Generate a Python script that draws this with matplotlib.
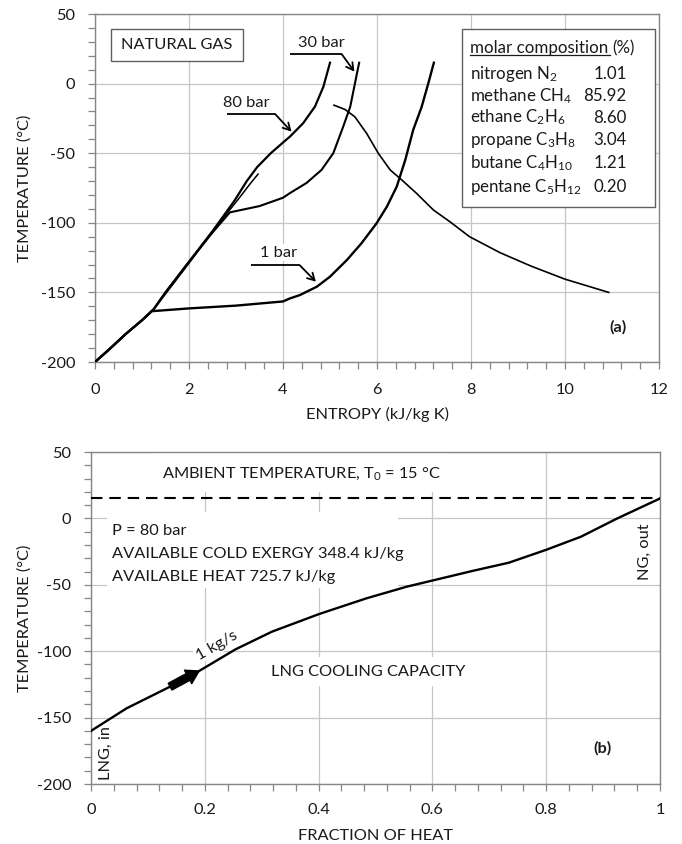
import matplotlib
matplotlib.use("Agg")
import matplotlib.pyplot as plt
from matplotlib.patches import Rectangle
from matplotlib.lines import Line2D
from matplotlib.ticker import MultipleLocator


# --------------------------------
# Data
# --------------------------------

# panel (a): T-s curves, entropy in kJ/kg K, temperature in degC
s_80bar = [0.0, 0.3, 0.65, 1.0, 1.25, 1.5, 2.0, 2.5, 2.97, 3.23, 3.45, 3.74, 4.08, 4.15,
           4.43, 4.68, 4.86, 5.0]
T_80bar = [-200, -191, -180, -170, -162, -150, -128, -106, -84, -70, -60, -50, -40, -38,
           -28.4, -16.5, -2.2, 15]

s_30bar = [0.0, 0.3, 0.65, 1.0, 1.25, 1.5, 2.0, 2.5, 2.87, 3.5, 4.0, 4.15, 4.5, 4.82,
           5.07, 5.28, 5.43, 5.53, 5.62]
T_30bar = [-200, -191, -180, -170, -162, -150, -128, -107, -92.5, -88, -82, -78.6, -71.4, -62,
           -50, -31, -16.7, 0, 15]

s_1bar = [0.0, 0.3, 0.65, 1.0, 1.21, 2.0, 3.0, 4.0, 4.15, 4.36, 4.72, 5.0, 5.36, 5.67,
          5.99, 6.21, 6.42, 6.6, 6.77, 6.95, 7.09, 7.21]
T_1bar = [-200, -191, -180, -170, -163.5, -161.5, -159.5, -156.5, -154.3, -151.9, -145.9, -138.7,
          -126.7, -114.7, -100.4, -88.4, -74, -55, -33.3, -16.7, 0, 15]

s_bubble = [1.3, 2.0, 2.6, 3.05, 3.3, 3.47]
T_bubble = [-160, -129, -102, -83, -72, -65]

s_dew = [5.085, 5.32, 5.53, 5.78, 6.03, 6.28, 6.53, 6.84, 7.2, 7.55, 7.97, 8.62, 9.27,
         10.0, 10.93]
T_dew = [-15.5, -18.6, -23.9, -35.8, -50.2, -62, -69.3, -78.8, -90.8, -99.2, -110, -121.5,
         -131, -140.5, -150]

comp_names = ["nitrogen N$_2$", "methane CH$_4$", "ethane C$_2$H$_6$",
              "propane C$_3$H$_8$", "butane C$_4$H$_{10}$", "pentane C$_5$H$_{12}$"]
comp_values = [1.01, 85.92, 8.60, 3.04, 1.21, 0.20]

# panel (b): LNG regasification curve at 80 bar
heat_frac = [0.0, 0.0626, 0.139, 0.19, 0.254, 0.318, 0.401, 0.484, 0.555, 0.599, 0.67,
             0.734, 0.799, 0.861, 0.925, 1.0]
T_lng = [-160, -143, -126.7, -114.9, -98.6, -85.3, -72, -60.2, -51.4, -46.9, -39.6,
         -33.4, -23.8, -13.8, 0, 15]
T_ambient = 15


# --------------------------------
# Style
# --------------------------------

plt.rcParams["font.family"] = ["Lato", "DejaVu Sans"]
plt.rcParams["mathtext.fontset"] = "custom"
plt.rcParams["mathtext.rm"] = "Lato"
plt.rcParams["mathtext.it"] = "Lato:italic"
plt.rcParams["mathtext.bf"] = "Lato:bold"
plt.rcParams["axes.unicode_minus"] = False

FS = 11.8
FS_BOX = 12.2
TXT = "#1a1a1a"
SPINE = "#868686"
GRID = "#c6c6c6"


def style_axes(ax, xpad):
    for sp in ax.spines.values():
        sp.set_color(SPINE)
        sp.set_linewidth(1.0)
    ax.tick_params(which="both", direction="out", color=SPINE, labelsize=FS,
                   labelcolor=TXT, length=5, width=0.9)
    ax.tick_params(axis="y", pad=9.3)
    ax.tick_params(axis="x", pad=xpad)
    ax.grid(True, which="major", color=GRID, linewidth=0.9)
    ax.set_axisbelow(True)


def place_labels(ax, xl, yl, ylab_x, xlab_y):
    ax.set_xlabel(xl, fontsize=FS, color=TXT)
    ax.set_ylabel(yl, fontsize=FS, color=TXT)
    ax.xaxis.set_label_coords(0.5, xlab_y)
    ax.yaxis.set_label_coords(ylab_x, 0.5)
    ax.xaxis.label.set_verticalalignment("center")
    ax.yaxis.label.set_verticalalignment("center")


fig = plt.figure(figsize=(6.82, 8.44), dpi=100)

# --------------------------------
# Panel (a)
# --------------------------------

ax1 = fig.add_axes([95 / 682, 1 - 362 / 844, 564 / 682, 348 / 844])
style_axes(ax1, 10)
ax1.set_xlim(0, 12)
ax1.set_ylim(-200, 50)
ax1.xaxis.set_major_locator(MultipleLocator(2))
ax1.xaxis.set_minor_locator(MultipleLocator(0.4))
ax1.yaxis.set_major_locator(MultipleLocator(50))
ax1.yaxis.set_minor_locator(MultipleLocator(10))
place_labels(ax1, "ENTROPY (kJ/kg K)", "TEMPERATURE (°C)", -70 / 564, -52 / 348)

ax1.plot(s_1bar, T_1bar, color="k", lw=1.7, zorder=3)
ax1.plot(s_30bar, T_30bar, color="k", lw=1.5, zorder=3)
ax1.plot(s_80bar, T_80bar, color="k", lw=1.6, zorder=3)
ax1.plot(s_bubble, T_bubble, color="k", lw=1.1, zorder=3)
ax1.plot(s_dew, T_dew, color="k", lw=1.2, zorder=3)

# natural gas label box
ax1.add_patch(Rectangle((0.028, 0.865), 0.235, 0.091, transform=ax1.transAxes,
                        facecolor="white", edgecolor="#606060", lw=1.0, zorder=4))
ax1.text(0.1455, 0.9105, "NATURAL GAS", transform=ax1.transAxes, ha="center",
         va="center", fontsize=FS, color=TXT, zorder=5)

# pressure labels with leader arrows
arrow_kw = dict(arrowstyle="->,head_length=0.5,head_width=0.28", color="k", lw=1.3,
                shrinkA=0, shrinkB=0)
leaders = [
    ("80 bar", (3.23, -14), (2.8, 3.83, -21.8), (4.18, -34.5)),
    ("30 bar", (4.82, 29.4), (4.14, 5.25, 21.1), (5.52, 8.6)),
    ("1 bar", (3.9, -121.4), (3.31, 4.35, -130.3), (4.7, -142.3)),
]
for lab, tpos, (x0, x1, yl), tip in leaders:
    ax1.text(tpos[0], tpos[1], lab, ha="center", va="center", fontsize=FS,
             color=TXT, zorder=5,
             bbox=dict(boxstyle="square,pad=0.1", facecolor="white", edgecolor="none"))
    ax1.plot([x0, x1], [yl, yl], color="k", lw=1.3, zorder=5, solid_capstyle="butt")
    ax1.annotate("", xy=tip, xytext=(x1, yl), arrowprops=arrow_kw, zorder=5)

# molar composition box
ax1.add_patch(Rectangle((0.651, 0.446), 0.342, 0.511, transform=ax1.transAxes,
                        facecolor="white", edgecolor="#606060", lw=1.0, zorder=4))
hdr = ax1.text(0.665, 0.887, "molar composition", transform=ax1.transAxes,
               ha="left", va="baseline", fontsize=FS_BOX, color=TXT, zorder=5)
row_base = [0.813, 0.750, 0.688, 0.624, 0.557, 0.489]
for name, val, yy in zip(comp_names, comp_values, row_base):
    ax1.text(0.665, yy, name, transform=ax1.transAxes, ha="left", va="baseline",
             fontsize=FS_BOX, color=TXT, zorder=5)
    ax1.text(0.943, yy, f"{val:.2f}", transform=ax1.transAxes, ha="right",
             va="baseline", fontsize=FS_BOX, color=TXT, zorder=5)

ax1.text(0.927, 0.101, "(a)", transform=ax1.transAxes, ha="center", va="center",
         fontsize=FS, fontweight="bold", color=TXT)

# --------------------------------
# Panel (b)
# --------------------------------

ax2 = fig.add_axes([91 / 682, 1 - 784 / 844, 569 / 682, 332 / 844])
style_axes(ax2, 9)
ax2.set_xlim(0, 1)
ax2.set_ylim(-200, 50)
ax2.xaxis.set_minor_locator(MultipleLocator(0.04))
ax2.yaxis.set_major_locator(MultipleLocator(50))
ax2.yaxis.set_minor_locator(MultipleLocator(10))
ax2.set_xticks([0, 0.2, 0.4, 0.6, 0.8, 1.0])
ax2.set_xticklabels(["0", "0.2", "0.4", "0.6", "0.8", "1"])
place_labels(ax2, "FRACTION OF HEAT", "TEMPERATURE (°C)", -66 / 569, -52 / 332)

ax2.axhline(T_ambient, color="k", lw=1.5, ls=(0, (5.5, 3.3)), zorder=3)
ax2.plot(heat_frac, T_lng, color="k", lw=1.7, zorder=3)

# flow direction arrow
ax2.annotate("", xy=(heat_frac[3], T_lng[3]), xytext=(heat_frac[2], T_lng[2]),
             arrowprops=dict(arrowstyle="simple,head_width=1.1,head_length=0.9,tail_width=0.55",
                             color="k", shrinkA=0, shrinkB=0), zorder=4)

# white panels behind the text blocks (they hide the grid like in the original)
for (bx, by, bw, bh) in [(0.11, 20, 0.52, 30), (0.028, -52.5, 0.512, 57.3),
                         (0.31, -126, 0.355, 22)]:
    ax2.add_patch(Rectangle((bx, by), bw, bh, facecolor="white", edgecolor="none",
                            zorder=1))

ax2.text(0.37, 34, "AMBIENT TEMPERATURE, T$_0$ = 15 °C", ha="center", va="center",
         fontsize=FS, color=TXT, zorder=2)
info_lines = ["P = 80 bar", "AVAILABLE COLD EXERGY 348.4 kJ/kg", "AVAILABLE HEAT 725.7 kJ/kg"]
for line, yy in zip(info_lines, [-9.3, -26.9, -44.0]):
    ax2.text(0.037, yy, line, ha="left", va="center", fontsize=FS, color=TXT, zorder=2)
ax2.text(0.222, -95.5, "1 kg/s", ha="center", va="center", rotation=30, fontsize=FS,
         color=TXT, zorder=2,
         bbox=dict(boxstyle="square,pad=0.1", facecolor="white", edgecolor="none"))
ax2.text(0.4875, -115.5, "LNG COOLING CAPACITY", ha="center", va="center", fontsize=FS,
         color=TXT, zorder=2)
ax2.text(0.026, -177, "LNG, in", ha="center", va="center", rotation=90,
         fontsize=FS, color=TXT)
ax2.text(0.974, -25, "NG, out", ha="center", va="center", rotation=90,
         fontsize=FS, color=TXT)
ax2.text(0.899, -173.4, "(b)", ha="center", va="center", fontsize=FS,
         fontweight="bold", color=TXT)

# underline the composition header and add "(%)" after it
fig.canvas.draw()
renderer = fig.canvas.get_renderer()
bb = hdr.get_window_extent(renderer)
bx0, base_y = ax1.transAxes.transform((0.665, 0.887))
uy = base_y - 2.0
inv = fig.transFigure.inverted()
(fx0, fy), (fx1, _) = inv.transform([(bx0, uy), (bb.x1 + 2, uy)])
fig.add_artist(Line2D([fx0, fx1], [fy, fy], color=TXT, lw=0.9, zorder=6))
ax1.text(bb.x1 + 4, base_y, "(%)", transform=None, ha="left", va="baseline",
         fontsize=FS_BOX, color=TXT, zorder=5)

fig.savefig("out.png", dpi=100)
